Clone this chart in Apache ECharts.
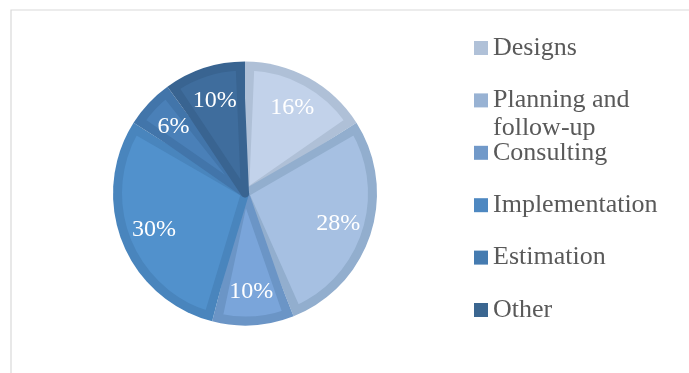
<!DOCTYPE html>
<html>
<head>
<meta charset="utf-8">
<title>Share of work by activity</title>
<script src="https://cdn.jsdelivr.net/npm/echarts@6/dist/echarts.min.js"></script>
<style>
  html, body { margin: 0; padding: 0; background: #ffffff; }
  #chart { width: 689px; height: 373px; }
</style>
</head>
<body>
<div id="chart"></div>
<script>
// Activities and their share of the total (percent)
const categories = ['Designs', 'Planning and follow-up', 'Consulting', 'Implementation', 'Estimation', 'Other'];
const shares = [16, 28, 10, 30, 6, 10];

// Slice fills, the darker rim drawn around each slice, and legend swatches
const fillColors = ['#c2d2ea', '#a6c0e2', '#7aa5da', '#5191cc', '#4a80b8', '#3f6d9d'];
const rimColors = ['#afc0d7', '#92aece', '#6b95c6', '#4985bd', '#4275aa', '#396491'];
const swatchColors = ['#b0c1d8', '#98b2d3', '#7199c9', '#4e88c1', '#457bb0', '#3b6690'];

const FONT = "'Liberation Serif', 'Times New Roman', serif";
const CENTER = [245, 193.5];
const LEGEND_FONT = 26;
const LEGEND_LINE = 28;

const chart = echarts.init(document.getElementById('chart'), null, { renderer: 'canvas' });

const rimData = categories.map((name, i) => ({ name, value: shares[i], itemStyle: { color: rimColors[i] } }));
const fillData = categories.map((name, i) => ({
  name, value: shares[i],
  itemStyle: { color: fillColors[i], borderColor: rimColors[i] }
}));
const labelData = categories.map((name, i) => ({ name, value: shares[i] }));

// long names wrap after the first line; a blank lead line keeps the
// first text line level with the swatch
function legendText(n) {
  return n === 'Planning and follow-up' ? ' \nPlanning and\nfollow-up' : n;
}

// one legend block per activity, stacked down the right side
const legends = categories.map((name, i) => {
  const iconTop = 41 + i * 52.4;
  const lines = legendText(name).split('\n').length;
  const offset = (LEGEND_LINE * lines) / 2 - 7;
  return {
    orient: 'vertical',
    left: 474,
    top: iconTop - offset,
    padding: 0,
    icon: 'rect',
    itemWidth: 14,
    itemHeight: 14,
    selectedMode: false,
    data: [{ name, itemStyle: { color: swatchColors[i] } }],
    formatter: legendText,
    textStyle: {
      fontFamily: FONT,
      fontSize: LEGEND_FONT,
      lineHeight: LEGEND_LINE,
      color: '#595959'
    }
  };
});

chart.setOption({
  animation: false,
  backgroundColor: '#ffffff',
  graphic: [{
    type: 'rect',
    shape: { x: 11, y: 10, width: 720, height: 420 },
    style: { fill: 'none', stroke: '#d9d9d9', lineWidth: 1.2 },
    silent: true
  }],
  legend: legends,
  series: [
    {
      // rim layer: full slices in the darker rim colour
      type: 'pie',
      center: CENTER,
      radius: 132,
      startAngle: 90,
      clockwise: true,
      silent: true,
      label: { show: false },
      labelLine: { show: false },
      itemStyle: { borderWidth: 0 },
      data: rimData
    },
    {
      // inset fill layer
      type: 'pie',
      center: CENTER,
      radius: 127,
      startAngle: 90,
      clockwise: true,
      padAngle: 4.8,
      silent: true,
      label: { show: false },
      labelLine: { show: false },
      itemStyle: { borderWidth: 8, borderJoin: 'round' },
      data: fillData
    },
    {
      // transparent ring that carries the percentage labels
      type: 'pie',
      center: CENTER,
      radius: [68, 122],
      startAngle: 90,
      clockwise: true,
      silent: true,
      itemStyle: { color: 'rgba(0,0,0,0)', borderWidth: 0 },
      label: {
        show: true,
        position: 'inside',
        formatter: '{c}%',
        fontFamily: FONT,
        fontSize: 24,
        color: '#ffffff'
      },
      labelLine: { show: false },
      data: labelData
    }
  ]
});
</script>
</body>
</html>
